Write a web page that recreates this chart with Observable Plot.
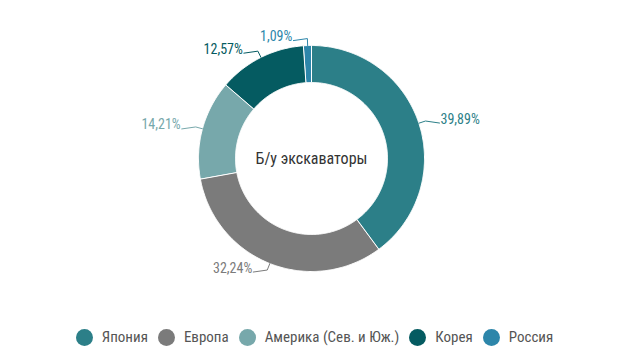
<!DOCTYPE html>
<html>
<head>
<meta charset="utf-8">
<script src="https://cdn.jsdelivr.net/npm/d3@7"></script>
<script src="https://cdn.jsdelivr.net/npm/@observablehq/plot@0.6"></script>
<style>
  html, body { margin: 0; padding: 0; background: #fff; }
  body { width: 635px; height: 363px; overflow: hidden; font-family: "Liberation Sans Narrow", "Roboto Condensed", Roboto, sans-serif; }
  #legend { display: flex; justify-content: center; align-items: center; font-size: 15px; color: #555; margin-top: 16px; padding-right: 6px; }
  .item { display: flex; align-items: center; margin: 0 5px; }
  .sw { width: 17px; height: 17px; border-radius: 50%; margin-right: 9px; }
</style>
</head>
<body>
<div id="chart"></div>
<div id="legend"></div>
<script>
const categories = ["Япония", "Европа", "Америка (Сев. и Юж.)", "Корея", "Россия"];
const shares = [39.89, 32.24, 14.21, 12.57, 1.09];
const labels = ["39,89%", "32,24%", "14,21%", "12,57%", "1,09%"];
const colors = ["#2c7f88", "#7b7b7b", "#77a8ab", "#055b61", "#2d86aa"];
const centerTitle = "Б/у экскаваторы";

const R = 113, r0 = 76;
const data = categories.map((name, i) => ({name, share: shares[i], label: labels[i]}));
const arcs = d3.pie().sort(null).value(d => d.share)(data);

const poly = [];
arcs.forEach(a => {
  const n = Math.max(4, Math.ceil((a.endAngle - a.startAngle) / 0.01));
  for (let k = 0; k <= n; k++) {
    const t = a.startAngle + (a.endAngle - a.startAngle) * k / n;
    poly.push({name: a.data.name, x: R * Math.sin(t), y: R * Math.cos(t)});
  }
  for (let k = n; k >= 0; k--) {
    const t = a.startAngle + (a.endAngle - a.startAngle) * k / n;
    poly.push({name: a.data.name, x: r0 * Math.sin(t), y: r0 * Math.cos(t)});
  }
});

const leaders = [];
const labelPts = [];
arcs.forEach((a, i) => {
  const m = (a.startAngle + a.endAngle) / 2;
  const s = Math.sin(m) >= 0 ? 1 : -1;
  const p0 = {x: R * Math.sin(m), y: R * Math.cos(m)};
  const p1 = {x: (R + 7) * Math.sin(m), y: (R + 7) * Math.cos(m)};
  const p2 = {x: p1.x + s * 14, y: p1.y - 2};
  [p0, p1, p2].forEach(p => leaders.push({name: a.data.name, ...p}));
  labelPts.push({name: a.data.name, label: a.data.label, x: p2.x + s * 1, y: p2.y + 4, anchor: s > 0 ? "start" : "end"});
});

const color = {domain: categories, range: colors};

const chart = Plot.plot({
  width: 635,
  height: 312,
  margin: 0,
  x: {domain: [-311, 324], axis: null},
  y: {domain: [-154, 158], axis: null},
  color,
  style: {fontFamily: '"Liberation Sans Narrow", "Roboto Condensed", Roboto, sans-serif', background: "#fff"},
  marks: [
    Plot.line(poly, {x: "x", y: "y", z: "name", fill: "name", stroke: "#fff", strokeWidth: 1, curve: "linear-closed"}),
    Plot.line(leaders, {x: "x", y: "y", z: "name", stroke: "name", strokeWidth: 1}),
    Plot.text(labelPts.filter(d => d.anchor === "start"), {x: "x", y: "y", text: "label", fill: "name", textAnchor: "start", fontSize: 14}),
    Plot.text(labelPts.filter(d => d.anchor === "end"), {x: "x", y: "y", text: "label", fill: "name", textAnchor: "end", fontSize: 14}),
    Plot.text([centerTitle], {x: () => 0, y: () => 0, text: d => d, fill: "#333", fontSize: 16})
  ]
});
document.getElementById("chart").appendChild(chart);

const legend = document.getElementById("legend");
categories.forEach((c, i) => {
  const it = document.createElement("div");
  it.className = "item";
  const sw = document.createElement("span");
  sw.className = "sw";
  sw.style.background = colors[i];
  const tx = document.createElement("span");
  tx.textContent = c;
  it.appendChild(sw);
  it.appendChild(tx);
  legend.appendChild(it);
});
</script>
</body>
</html>
